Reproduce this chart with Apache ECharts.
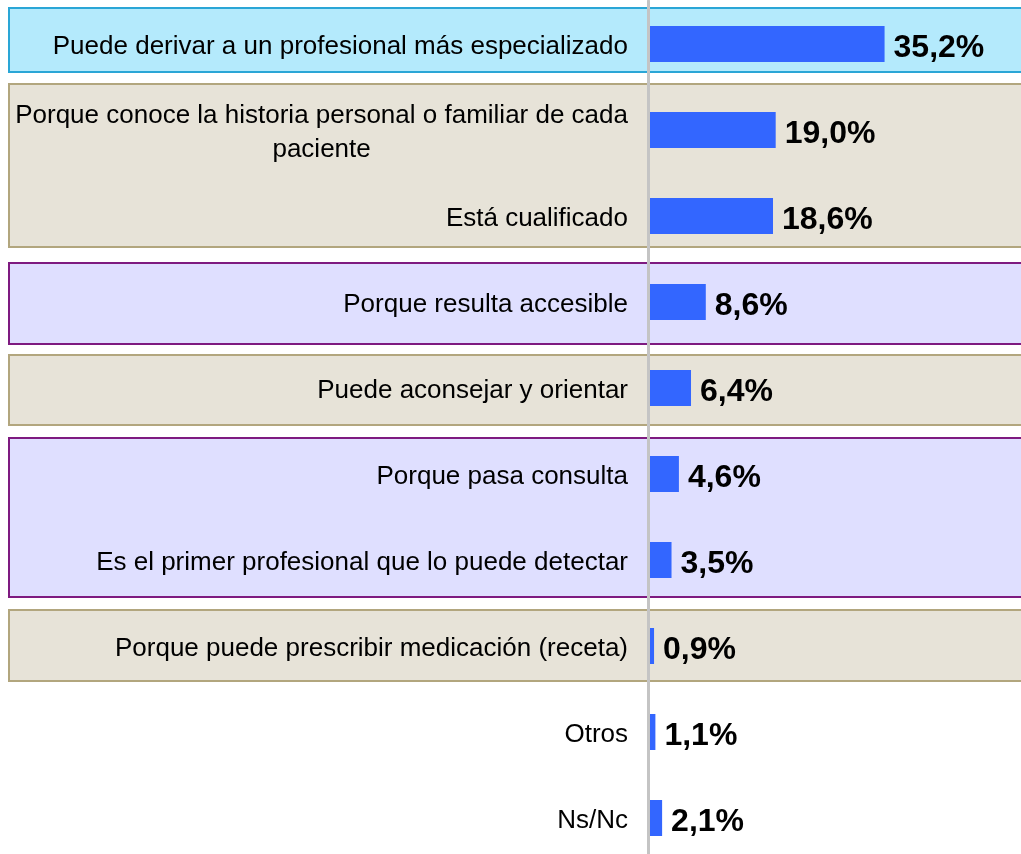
<!DOCTYPE html>
<html>
<head>
<meta charset="utf-8">
<script src="https://cdn.jsdelivr.net/npm/echarts@6/dist/echarts.min.js"></script>
<style>
  html, body { margin: 0; padding: 0; background: #fff; }
  #main { width: 1021px; height: 854px; }
</style>
</head>
<body>
<div id="main"></div>
<script>
var categories = [
    'Puede derivar a un profesional más especializado',
    'Porque conoce la historia personal o familiar de cada\npaciente',
    'Está cualificado',
    'Porque resulta accesible',
    'Puede aconsejar y orientar',
    'Porque pasa consulta',
    'Es el primer profesional que lo puede detectar',
    'Porque puede prescribir medicación (receta)',
    'Otros',
    'Ns/Nc'
];
var values = [35.2, 19.0, 18.6, 8.6, 6.4, 4.6, 3.5, 0.9, 1.1, 2.1];

var FONT = "'Liberation Sans', Arial, sans-serif";

// background group boxes (decoration only)
var boxes = [
    { y: 8, h: 64, fill: '#B4EAFC', stroke: '#2AA6D6' },
    { y: 84, h: 163, fill: '#E7E3D8', stroke: '#B2A67E' },
    { y: 263, h: 81, fill: '#DFDFFF', stroke: '#7E1A80' },
    { y: 355, h: 70, fill: '#E7E3D8', stroke: '#B2A67E' },
    { y: 438, h: 159, fill: '#DFDFFF', stroke: '#7E1A80' },
    { y: 610, h: 71, fill: '#E7E3D8', stroke: '#B2A67E' }
];

var graphics = boxes.map(function (b) {
    return {
        type: 'rect',
        z: -10,
        shape: { x: 9, y: b.y, width: 1030, height: b.h },
        style: { fill: b.fill, stroke: b.stroke, lineWidth: 2 }
    };
});

var options = {
    animation: false,
    graphic: graphics,
    grid: {
        left: 648,
        right: 0,
        top: 1,
        height: 860,
        outerBoundsMode: 'none'
    },
    xAxis: {
        type: 'value',
        min: 0,
        max: 55.5,
        show: false
    },
    yAxis: {
        type: 'category',
        inverse: true,
        data: categories,
        z: 5,
        axisLine: { show: true, lineStyle: { color: '#C4C4C4', width: 3 } },
        axisTick: { show: false },
        axisLabel: {
            margin: 20,
            padding: [6, 0, 0, 0],
            fontFamily: FONT,
            fontSize: 26,
            color: '#000',
            lineHeight: 34,
            formatter: function (v) {
                return v.split('\n').map(function (s) { return '{c|' + s + '}'; }).join('\n');
            },
            rich: {
                c: {
                    align: 'center',
                    fontFamily: FONT,
                    fontSize: 26,
                    color: '#000',
                    lineHeight: 34
                }
            }
        }
    },
    series: [{
        type: 'bar',
        data: values,
        barWidth: 36,
        z: 3,
        itemStyle: { color: '#3366FF' },
        label: {
            show: true,
            position: 'right',
            distance: 9,
            offset: [0, 4],
            fontFamily: FONT,
            fontWeight: 'bold',
            fontSize: 32,
            color: '#000',
            formatter: function (p) {
                return p.value.toFixed(1).replace('.', ',') + '%';
            }
        }
    }]
};

var chart = echarts.init(document.getElementById('main'));
chart.setOption(options);
</script>
</body>
</html>
